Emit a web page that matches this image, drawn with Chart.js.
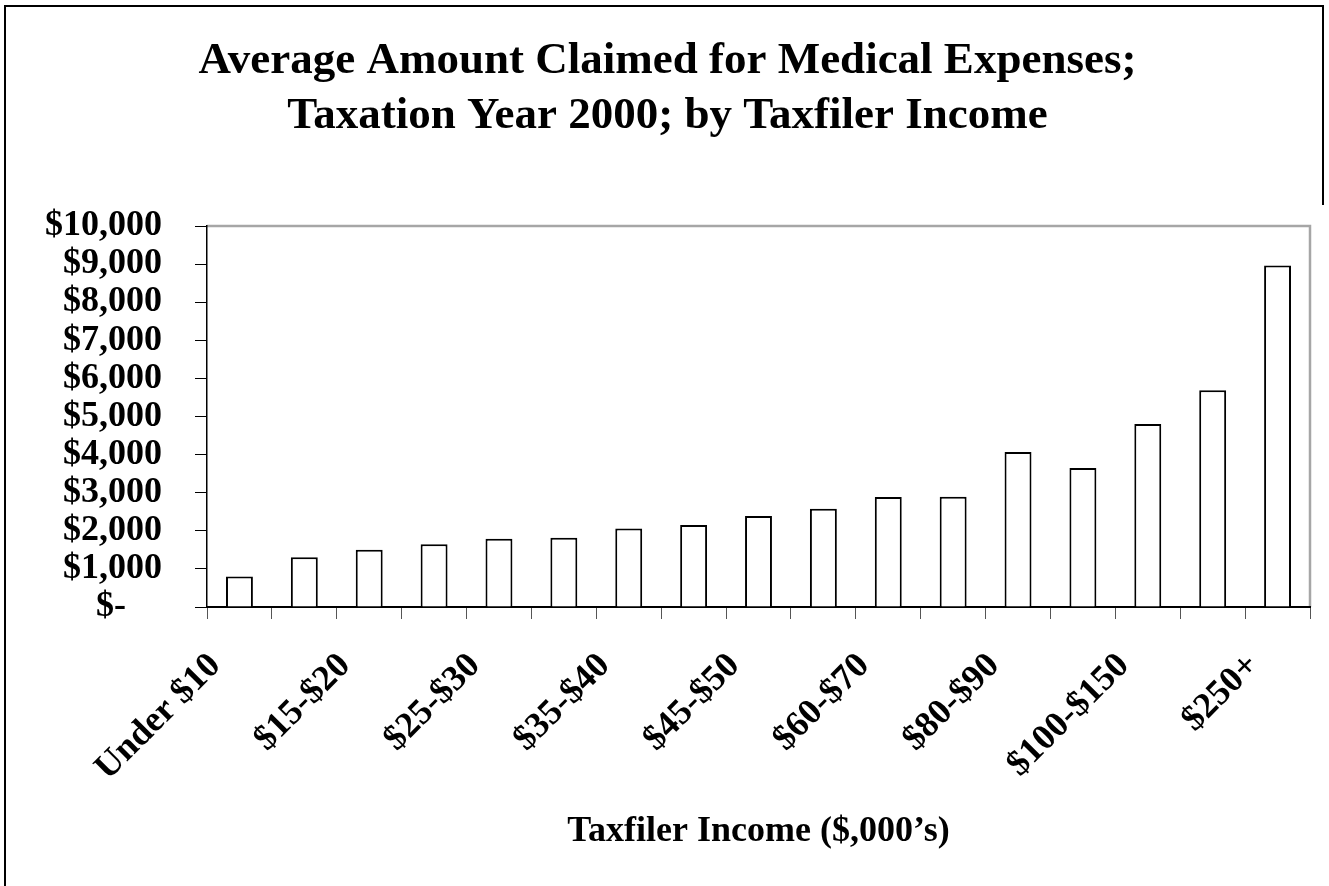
<!DOCTYPE html>
<html>
<head>
<meta charset="utf-8">
<script src="https://cdn.jsdelivr.net/npm/chart.js@4.4.1/dist/chart.umd.min.js"></script>
<style>
  html, body { margin: 0; padding: 0; background: #fff; }
  #wrap { position: relative; width: 1329px; height: 886px; overflow: hidden; }
  .edge { position: absolute; background: #000; pointer-events: none; }
  #edgeTop { left: 4px; top: 5px; width: 1320px; height: 2px; }
  #edgeLeft { left: 4px; top: 5px; width: 2px; height: 881px; }
  #edgeRight { left: 1322px; top: 5px; width: 2px; height: 200px; }
</style>
</head>
<body>
<div id="wrap">
  <canvas id="medChart" width="1329" height="886"></canvas>
  <div class="edge" id="edgeTop"></div>
  <div class="edge" id="edgeLeft"></div>
  <div class="edge" id="edgeRight"></div>
</div>
<script>
// Average medical expense claim by taxfiler income band, 2000
const incomeBands = [
  'Under $10', '$10-$15', '$15-$20', '$20-$25', '$25-$30', '$30-$35',
  '$35-$40', '$40-$45', '$45-$50', '$50-$60', '$60-$70', '$70-$80',
  '$80-$90', '$90-$100', '$100-$150', '$150-$250', '$250+'
];
const avgClaimed = [
  800, 1305, 1500, 1650, 1790, 1820, 2060, 2150, 2390,
  2580, 2885, 2895, 4070, 3650, 4800, 5690, 8960
];
// only every other band gets a label on the axis
const shownBands = [
  'Under $10', '$15-$20', '$25-$30', '$35-$40', '$45-$50',
  '$60-$70', '$80-$90', '$100-$150', '$250+'
];
const yMax = 10000;
const yStep = 1000;

const serif = "'Liberation Serif', 'Times New Roman', serif";

// grey box round the top and right of the plot area
const plotFrame = {
  id: 'plotFrame',
  beforeDraw(chart) {
    const { ctx, chartArea: a } = chart;
    ctx.save();
    ctx.strokeStyle = '#a6a6a6';
    ctx.lineWidth = 2.5;
    ctx.beginPath();
    ctx.moveTo(a.left, a.top);
    ctx.lineTo(a.right, a.top);
    ctx.lineTo(a.right, a.bottom);
    ctx.stroke();
    ctx.restore();
  }
};

new Chart(document.getElementById('medChart'), {
  type: 'bar',
  data: {
    labels: incomeBands,
    datasets: [{
      label: 'Average amount claimed',
      data: avgClaimed,
      backgroundColor: '#ffffff',
      borderColor: '#000000',
      borderWidth: 2,
      barPercentage: 0.83,
      categoryPercentage: 0.5
    }]
  },
  options: {
    responsive: false,
    animation: false,
    layout: { padding: { left: 25, right: 19, top: 0, bottom: 0 } },
    plugins: {
      legend: { display: false },
      tooltip: { enabled: false },
      title: {
        display: true,
        text: ['Average Amount Claimed for Medical Expenses;', 'Taxation Year 2000; by Taxfiler Income'],
        color: '#000',
        font: { family: serif, size: 45, weight: 'bold', lineHeight: 55 / 45 },
        padding: { top: 34, bottom: 82 }
      }
    },
    scales: {
      x: {
        afterFit(scale) {
          scale.height = 886 - 607;
          scale.paddingRight = 0; // rotated labels never reach past the last tick
        },
        border: { display: true, color: '#000', width: 2 },
        grid: {
          offset: true,
          drawOnChartArea: false,
          drawTicks: true,
          tickLength: 12,
          color: '#555'
        },
        ticks: {
          autoSkip: false,
          maxRotation: 45,
          minRotation: 45,
          padding: 26,
          labelOffset: -24,
          color: '#000',
          font: { family: serif, size: 36, weight: 'bold' },
          callback(value, index) {
            const lbl = incomeBands[index];
            return shownBands.includes(lbl) ? lbl : '';
          }
        },
        title: {
          display: true,
          text: 'Taxfiler Income ($,000\u2019s)',
          color: '#000',
          font: { family: serif, size: 36, weight: 'bold' },
          padding: { top: 0, bottom: 33 }
        }
      },
      y: {
        min: 0,
        max: yMax,
        afterFit(scale) { scale.width = 182; },
        border: { display: true, color: '#000', width: 1.5 },
        grid: {
          drawOnChartArea: false,
          drawTicks: true,
          tickLength: 12,
          color: '#000'
        },
        ticks: {
          stepSize: yStep,
          autoSkip: false,
          padding: 33,
          color: '#000',
          font: { family: serif, size: 36, weight: 'bold' },
          callback(value) {
            return value === 0 ? '$-\u00a0\u00a0\u00a0\u00a0' : '$' + value.toLocaleString('en-US');
          }
        }
      }
    }
  },
  plugins: [plotFrame]
});
</script>
</body>
</html>
